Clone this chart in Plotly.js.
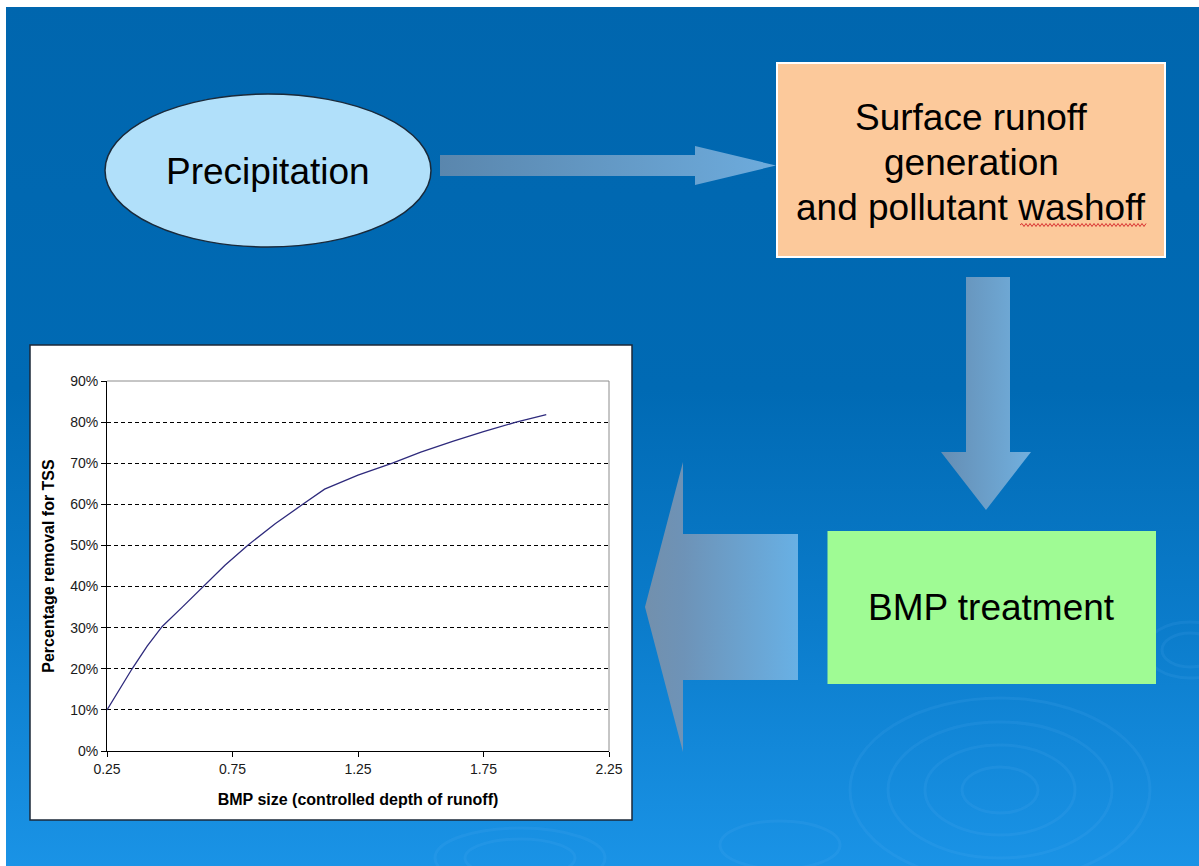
<!DOCTYPE html>
<html>
<head>
<meta charset="utf-8">
<script src="https://cdn.plot.ly/plotly-3.0.1.min.js"></script>
<style>
  html, body { margin: 0; padding: 0; background: #0068b0; }
  #chart { width: 1199px; height: 866px; }
</style>
</head>
<body>
<div id="chart"></div>
<script>
// ---------------- data ----------------
const bmpSize = [0.25, 0.35, 0.41, 0.47, 0.55, 0.635, 0.72, 0.81, 0.92, 1.03, 1.117, 1.25, 1.387, 1.5, 1.63, 1.75, 1.88, 2.0];
const tssRemoval = [0.10, 0.20, 0.255, 0.303, 0.35, 0.40, 0.452, 0.50, 0.553, 0.60, 0.637, 0.671, 0.70, 0.727, 0.754, 0.777, 0.80, 0.818];
const xTickVals = [0.25, 0.75, 1.25, 1.75, 2.25];
const xTickText = ['0.25', '0.75', '1.25', '1.75', '2.25'];
const yTickVals = [0, 0.1, 0.2, 0.3, 0.4, 0.5, 0.6, 0.7, 0.8, 0.9];
const yTickText = ['0%', '10%', '20%', '30%', '40%', '50%', '60%', '70%', '80%', '90%'];
const xTitle = 'BMP size (controlled depth of runoff)';
const yTitle = 'Percentage removal for TSS';
const precipLabel = 'Precipitation';
const runoffLines = ['Surface runoff', 'generation', 'and pollutant washoff'];
const bmpLabel = 'BMP treatment';

// ---------------- geometry helpers (pixel -> paper) ----------------
const W = 1199, H = 866, ML = 107, MR = 590, MT = 381, MB = 115;
const PW = W - ML - MR, PH = H - MT - MB;
const px = x => (x - ML) / PW;
const py = y => (H - MB - y) / PH;
const FONT = 'Arial, "Liberation Sans", sans-serif';

// ---------------- background artwork (svg) ----------------
const svg = `<svg xmlns="http://www.w3.org/2000/svg" width="${W}" height="${H}" viewBox="0 0 ${W} ${H}" preserveAspectRatio="none">
<defs>
<linearGradient id="bg" x1="0" y1="0" x2="0" y2="1">
<stop offset="0" stop-color="#0066ae"/>
<stop offset="0.45" stop-color="#006ab4"/>
<stop offset="0.72" stop-color="#0b7ccb"/>
<stop offset="1" stop-color="#1a93e6"/>
</linearGradient>
<linearGradient id="ga" x1="0" y1="0" x2="1" y2="0">
<stop offset="0" stop-color="#5f88ad"/>
<stop offset="1" stop-color="#73afdf"/>
</linearGradient>
<linearGradient id="gd" x1="0" y1="0" x2="1" y2="0">
<stop offset="0" stop-color="#6a8fb3"/>
<stop offset="1" stop-color="#77b3e0"/>
</linearGradient>
<linearGradient id="gl" x1="0" y1="0" x2="1" y2="0">
<stop offset="0" stop-color="#7891ab"/>
<stop offset="0.25" stop-color="#7394b6"/>
<stop offset="1" stop-color="#6db3e6"/>
</linearGradient>
</defs>
<rect x="0" y="0" width="${W}" height="${H}" fill="url(#bg)"/>
<g fill="none" stroke="#5fb6f5" stroke-opacity="0.12" stroke-width="3">
<ellipse cx="1000" cy="790" rx="150" ry="92"/>
<ellipse cx="1000" cy="790" rx="112" ry="68"/>
<ellipse cx="1000" cy="790" rx="75" ry="45"/>
<ellipse cx="1000" cy="790" rx="38" ry="23"/>
<ellipse cx="1190" cy="650" rx="45" ry="28"/>
<ellipse cx="1190" cy="650" rx="28" ry="17"/>
<ellipse cx="520" cy="858" rx="85" ry="30"/>
<ellipse cx="520" cy="858" rx="55" ry="19"/>
<ellipse cx="780" cy="845" rx="60" ry="24"/>
</g>
<path d="M440,155 L695,155 L695,146 L776,165.5 L695,185 L695,176 L440,176 Z" fill="url(#ga)" fill-opacity="0.95"/>
<path d="M966,277 L1010,277 L1010,452 L1031,452 L986,510 L941,452 L966,452 Z" fill="url(#gd)" fill-opacity="0.95"/>
<path d="M798,534 L683,534 L683,462 L645,607 L683,752 L683,680 L798,680 Z" fill="url(#gl)" fill-opacity="0.95"/>
<rect x="0" y="0" width="${W}" height="7" fill="#ffffff"/>
<rect x="0" y="0" width="6" height="${H}" fill="#ffffff"/>
</svg>`;
const bgSource = 'data:image/svg+xml;charset=utf-8,' + encodeURIComponent(svg);

// wavy spell-check underline under "washoff"
let wave = `M${px(1020)},${py(225)}`;
for (let i = 1, x = 1020; x < 1146; i++) {
  x += 2;
  wave += ` L${px(x)},${py(i % 2 ? 223.5 : 226.5)}`;
}

// ---------------- trace ----------------
const trace = {
  type: 'scatter',
  mode: 'lines',
  x: bmpSize,
  y: tssRemoval,
  line: { color: '#2e2a7c', width: 1.3 },
  hoverinfo: 'x+y',
  showlegend: false
};

const shapes = [
  { type: 'rect', xref: 'paper', yref: 'paper', layer: 'below',
    x0: px(30), x1: px(632), y0: py(820), y1: py(345),
    fillcolor: '#ffffff', line: { color: '#1c2838', width: 1.5 } },
  { type: 'circle', xref: 'paper', yref: 'paper', layer: 'below',
    x0: px(105), x1: px(431), y0: py(247), y1: py(94),
    fillcolor: '#b1e0fa', line: { color: '#1a2a3a', width: 1.5 } },
  { type: 'rect', xref: 'paper', yref: 'paper', layer: 'below',
    x0: px(777), x1: px(1165), y0: py(257), y1: py(63),
    fillcolor: '#fcc99b', line: { color: '#ffffff', width: 2 } },
  { type: 'rect', xref: 'paper', yref: 'paper', layer: 'below',
    x0: px(827.5), x1: px(1156), y0: py(684), y1: py(531),
    fillcolor: '#9ffb94', line: { width: 0 } },
  { type: 'line', xref: 'paper', yref: 'paper', layer: 'above',
    x0: 0, x1: 1, y0: 1, y1: 1, line: { color: '#8c8c8c', width: 1 } },
  { type: 'line', xref: 'paper', yref: 'paper', layer: 'above',
    x0: 1, x1: 1, y0: 0, y1: 1, line: { color: '#8c8c8c', width: 1 } },
  { type: 'path', xref: 'paper', yref: 'paper', layer: 'above',
    path: wave, line: { color: '#d83030', width: 1 } }
];

const ann = (text, x, y) => ({
  text, xref: 'paper', yref: 'paper', x: px(x), y: py(y),
  xanchor: 'center', yanchor: 'middle', showarrow: false,
  font: { family: FONT, size: 37, color: '#000000' }
});

const annotations = [
  ann(precipLabel, 268, 171),
  ann(runoffLines[0], 971, 117),
  ann(runoffLines[1], 971, 162),
  ann(runoffLines[2], 971, 208),
  ann(bmpLabel, 991.5, 607)
];

const layout = {
  width: W, height: H, autosize: false,
  margin: { l: ML, r: MR, t: MT, b: MB, pad: 0 },
  paper_bgcolor: '#0068b0',
  plot_bgcolor: 'rgba(0,0,0,0)',
  font: { family: FONT, color: '#1a1a1a' },
  showlegend: false,
  xaxis: {
    range: [0.25, 2.25], tickvals: xTickVals, ticktext: xTickText,
    ticks: 'outside', ticklen: 5, tickcolor: '#000', tickwidth: 1,
    showline: true, linecolor: '#000', linewidth: 1,
    showgrid: false, zeroline: false,
    tickfont: { family: FONT, size: 14, color: '#1a1a1a' },
    title: { text: xTitle, standoff: 18, font: { family: FONT, size: 16, color: '#000', weight: 'bold' } }
  },
  yaxis: {
    range: [0, 0.9], tickvals: yTickVals, ticktext: yTickText,
    ticks: 'outside', ticklen: 5, tickcolor: '#000', tickwidth: 1,
    showline: true, linecolor: '#000', linewidth: 1,
    showgrid: true, gridcolor: '#000', gridwidth: 1, griddash: '4px,3px',
    zeroline: false,
    tickfont: { family: FONT, size: 14, color: '#1a1a1a' },
    title: { text: yTitle, standoff: 11, font: { family: FONT, size: 16, color: '#000', weight: 'bold' } }
  },
  images: [{
    source: bgSource, xref: 'paper', yref: 'paper',
    x: px(0), y: py(0), sizex: W / PW, sizey: H / PH,
    xanchor: 'left', yanchor: 'top', sizing: 'stretch', layer: 'below'
  }],
  shapes, annotations
};

Plotly.newPlot('chart', [trace], layout, { displayModeBar: false, responsive: false });
</script>
</body>
</html>
